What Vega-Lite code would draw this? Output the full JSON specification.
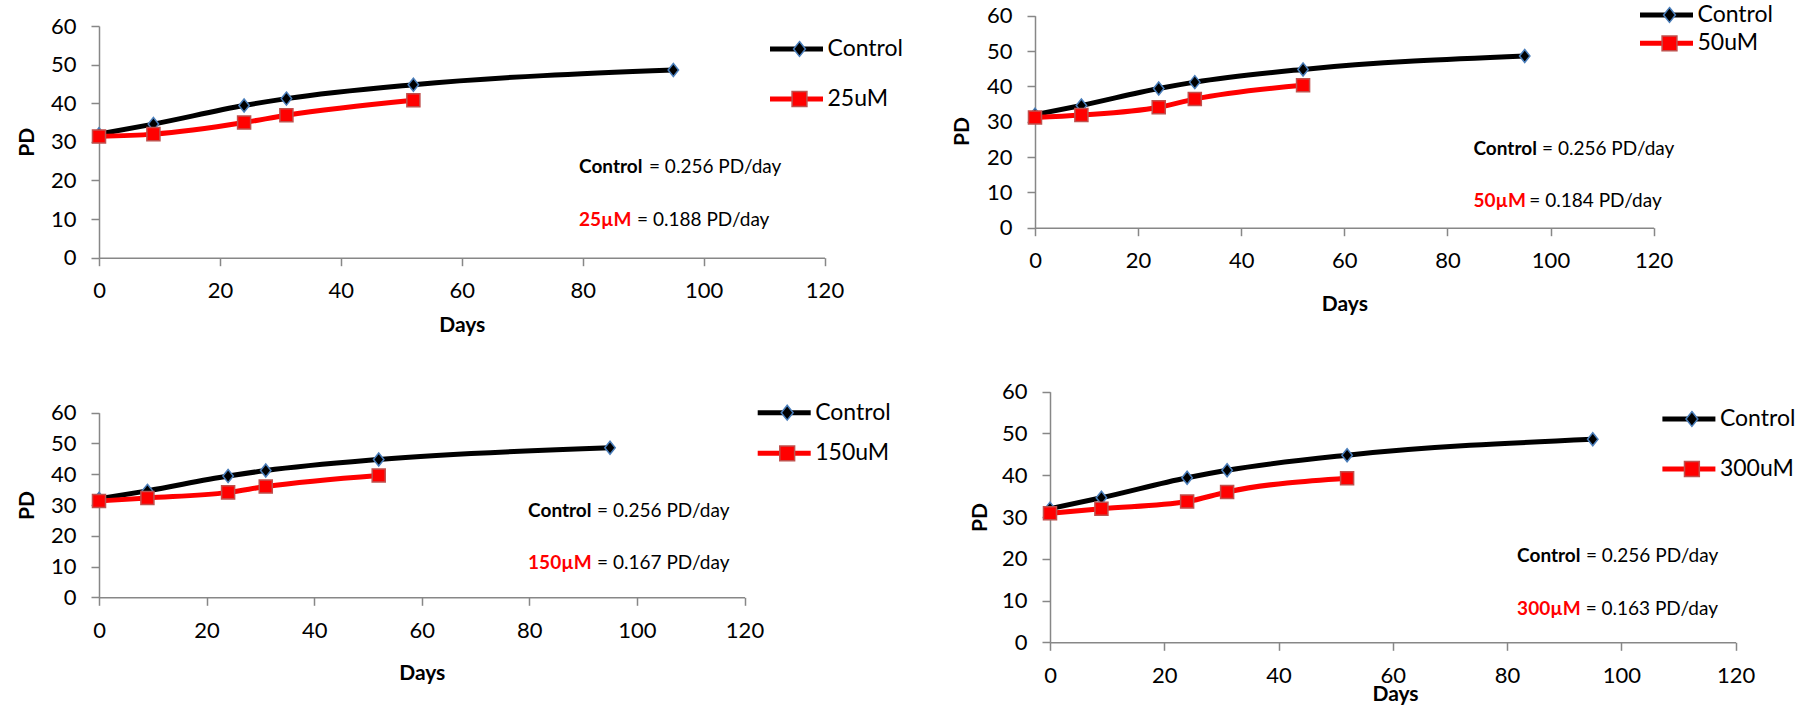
{
  "$schema": "https://vega.github.io/schema/vega-lite/v6.json",
  "width": 1811,
  "height": 708,
  "autosize": "none",
  "padding": 0,
  "background": "#ffffff",
  "config": {
    "view": {"stroke": null},
    "font": "Lato",
    "axis": {
      "grid": false,
      "domainColor": "#878787",
      "domainWidth": 1.5,
      "tickColor": "#878787",
      "tickWidth": 1.5,
      "tickSize": 8,
      "labelFont": "Lato",
      "labelFontSize": 22,
      "labelColor": "#000000",
      "labelPadding": 15,
      "labelFlush": false,
      "labelOverlap": false,
      "labelBound": false,
      "titleFont": "Lato",
      "titleFontSize": 21,
      "titleFontWeight": "bold",
      "titleColor": "#000000"
    },
    "legend": {
      "padding": 0,
      "labelFont": "Lato",
      "labelFontSize": 23,
      "labelColor": "#000000",
      "labelOffset": 2,
      "clipHeight": 24
    },
    "text": {"font": "Lato", "fontSize": 19, "align": "left", "baseline": "alphabetic"}
  },
  "datasets": {
    "pd": [
      {"series": "Control", "day": 0, "pd": 32.0},
      {"series": "Control", "day": 9, "pd": 34.6},
      {"series": "Control", "day": 24, "pd": 39.4},
      {"series": "Control", "day": 31, "pd": 41.2},
      {"series": "Control", "day": 52, "pd": 44.8},
      {"series": "Control", "day": 95, "pd": 48.6},
      {"series": "25uM", "day": 0, "pd": 31.4},
      {"series": "25uM", "day": 9, "pd": 32.0},
      {"series": "25uM", "day": 24, "pd": 35.0},
      {"series": "25uM", "day": 31, "pd": 36.9},
      {"series": "25uM", "day": 52, "pd": 40.8},
      {"series": "50uM", "day": 0, "pd": 31.2},
      {"series": "50uM", "day": 9, "pd": 31.9},
      {"series": "50uM", "day": 24, "pd": 34.1},
      {"series": "50uM", "day": 31, "pd": 36.4},
      {"series": "50uM", "day": 52, "pd": 40.3},
      {"series": "150uM", "day": 0, "pd": 31.3},
      {"series": "150uM", "day": 9, "pd": 32.3},
      {"series": "150uM", "day": 24, "pd": 34.1},
      {"series": "150uM", "day": 31, "pd": 36.0},
      {"series": "150uM", "day": 52, "pd": 39.6},
      {"series": "300uM", "day": 0, "pd": 30.9},
      {"series": "300uM", "day": 9, "pd": 32.0},
      {"series": "300uM", "day": 24, "pd": 33.7},
      {"series": "300uM", "day": 31, "pd": 36.0},
      {"series": "300uM", "day": 52, "pd": 39.3}
    ]
  },
  "data": {"name": "pd"},
  "resolve": {
    "scale": {"x": "independent", "y": "independent", "color": "independent", "fill": "independent", "stroke": "independent", "shape": "independent"}
  },
  "layer": [
    {
      "layer": [
        {
          "transform": [{"filter": {"field": "series", "oneOf": ["Control", "25uM"]}}],
          "mark": {"type": "line", "interpolate": "monotone", "strokeWidth": 5},
          "encoding": {
            "x": {"field": "day", "type": "quantitative", "scale": {"domain": [0, 120], "range": [99, 824.5], "nice": false, "zero": false},
              "axis": {"orient": "bottom", "offset": -450.3, "values": [0, 20, 40, 60, 80, 100, 120], "title": "Days", "titleBaseline": "alphabetic", "titleY": 73.3}},
            "y": {"field": "pd", "type": "quantitative", "scale": {"domain": [0, 60], "range": [257.7, 26], "nice": false, "zero": false},
              "axis": {"orient": "left", "offset": -99, "values": [0, 10, 20, 30, 40, 50, 60], "title": "PD", "titleAngle": -90, "titleBaseline": "alphabetic", "titleX": -65.7}},
            "color": {"field": "series", "type": "nominal", "scale": {"domain": ["Control", "25uM"], "range": ["#000000", "#ff0000"]},
              "legend": {"orient": "none", "legendX": 767.5, "legendY": 37, "title": null, "symbolType": "stroke", "symbolSize": 2809, "symbolStrokeWidth": 5, "rowPadding": 26}}
          }
        },
        {
          "transform": [{"filter": {"field": "series", "oneOf": ["Control", "25uM"]}}],
          "mark": {"type": "point", "filled": true, "size": 170, "strokeWidth": 1.5, "opacity": 1},
          "encoding": {
            "x": {"field": "day", "type": "quantitative"},
            "y": {"field": "pd", "type": "quantitative"},
            "fill": {"field": "series", "type": "nominal", "sort": null, "scale": {"range": ["#000000", "#ff0000"]},
              "legend": {"orient": "none", "legendX": 788, "legendY": 37, "title": null, "symbolSize": 220, "symbolStrokeWidth": 1.5, "labelExpr": "''", "rowPadding": 26}},
            "stroke": {"field": "series", "type": "nominal", "sort": null, "scale": {"range": ["#4a7ebb", "#c0504d"]}},
            "shape": {"field": "series", "type": "nominal", "sort": null, "scale": {"range": ["M0,-1L0.8,0L0,1L-0.8,0Z", "M-1,-1H1V1H-1Z"]}}
          }
        },
        {
          "data": {"values": [{"line": 1}]},
          "mark": {"type": "text", "fontWeight": "bold", "color": "#000000"},
          "encoding": {"x": {"datum": 79.4, "type": "quantitative"}, "y": {"datum": 21.86, "type": "quantitative"}, "text": {"value": "Control"}}
        },
        {
          "data": {"values": [{"line": 1}]},
          "mark": {"type": "text", "color": "#000000"},
          "encoding": {"x": {"datum": 90.97, "type": "quantitative"}, "y": {"datum": 21.86, "type": "quantitative"}, "text": {"value": "= 0.256 PD/day"}}
        },
        {
          "data": {"values": [{"line": 2}]},
          "mark": {"type": "text", "fontWeight": "bold", "color": "#ff0000"},
          "encoding": {"x": {"datum": 79.4, "type": "quantitative"}, "y": {"datum": 8.29, "type": "quantitative"}, "text": {"value": "25µM"}}
        },
        {
          "data": {"values": [{"line": 2}]},
          "mark": {"type": "text", "color": "#000000"},
          "encoding": {"x": {"datum": 89.0, "type": "quantitative"}, "y": {"datum": 8.29, "type": "quantitative"}, "text": {"value": "= 0.188 PD/day"}}
        }
      ]
    },
    {
      "layer": [
        {
          "transform": [{"filter": {"field": "series", "oneOf": ["Control", "50uM"]}}],
          "mark": {"type": "line", "interpolate": "monotone", "strokeWidth": 5},
          "encoding": {
            "x": {"field": "day", "type": "quantitative", "scale": {"domain": [0, 120], "range": [1035, 1653.6], "nice": false, "zero": false},
              "axis": {"orient": "bottom", "offset": -480.3, "values": [0, 20, 40, 60, 80, 100, 120], "title": "Days", "titleBaseline": "alphabetic", "titleY": 83}},
            "y": {"field": "pd", "type": "quantitative", "scale": {"domain": [0, 60], "range": [227.7, 15.7], "nice": false, "zero": false},
              "axis": {"orient": "left", "offset": -1035, "values": [0, 10, 20, 30, 40, 50, 60], "title": "PD", "titleAngle": -90, "titleBaseline": "alphabetic", "titleX": -66.7, "titleY": 131}},
            "color": {"field": "series", "type": "nominal", "scale": {"domain": ["Control", "50uM"], "range": ["#000000", "#ff0000"]},
              "legend": {"orient": "none", "legendX": 1637.5, "legendY": 3, "title": null, "symbolType": "stroke", "symbolSize": 2809, "symbolStrokeWidth": 5, "rowPadding": 4.3}}
          }
        },
        {
          "transform": [{"filter": {"field": "series", "oneOf": ["Control", "50uM"]}}],
          "mark": {"type": "point", "filled": true, "size": 170, "strokeWidth": 1.5, "opacity": 1},
          "encoding": {
            "x": {"field": "day", "type": "quantitative"},
            "y": {"field": "pd", "type": "quantitative"},
            "fill": {"field": "series", "type": "nominal", "sort": null, "scale": {"range": ["#000000", "#ff0000"]},
              "legend": {"orient": "none", "legendX": 1658, "legendY": 3, "title": null, "symbolSize": 220, "symbolStrokeWidth": 1.5, "labelExpr": "''", "rowPadding": 4.3}},
            "stroke": {"field": "series", "type": "nominal", "sort": null, "scale": {"range": ["#4a7ebb", "#c0504d"]}},
            "shape": {"field": "series", "type": "nominal", "sort": null, "scale": {"range": ["M0,-1L0.8,0L0,1L-0.8,0Z", "M-1,-1H1V1H-1Z"]}}
          }
        },
        {
          "data": {"values": [{"line": 1}]},
          "mark": {"type": "text", "fontWeight": "bold", "color": "#000000"},
          "encoding": {"x": {"datum": 85.06, "type": "quantitative"}, "y": {"datum": 20.58, "type": "quantitative"}, "text": {"value": "Control"}}
        },
        {
          "data": {"values": [{"line": 1}]},
          "mark": {"type": "text", "color": "#000000"},
          "encoding": {"x": {"datum": 98.35, "type": "quantitative"}, "y": {"datum": 20.58, "type": "quantitative"}, "text": {"value": "= 0.256 PD/day"}}
        },
        {
          "data": {"values": [{"line": 2}]},
          "mark": {"type": "text", "fontWeight": "bold", "color": "#ff0000"},
          "encoding": {"x": {"datum": 85.06, "type": "quantitative"}, "y": {"datum": 5.94, "type": "quantitative"}, "text": {"value": "50µM"}}
        },
        {
          "data": {"values": [{"line": 2}]},
          "mark": {"type": "text", "color": "#000000"},
          "encoding": {"x": {"datum": 95.9, "type": "quantitative"}, "y": {"datum": 5.94, "type": "quantitative"}, "text": {"value": "= 0.184 PD/day"}}
        }
      ]
    },
    {
      "layer": [
        {
          "transform": [{"filter": {"field": "series", "oneOf": ["Control", "150uM"]}}],
          "mark": {"type": "line", "interpolate": "monotone", "strokeWidth": 5},
          "encoding": {
            "x": {"field": "day", "type": "quantitative", "scale": {"domain": [0, 120], "range": [99, 744.5], "nice": false, "zero": false},
              "axis": {"orient": "bottom", "offset": -110.7, "values": [0, 20, 40, 60, 80, 100, 120], "title": "Days", "titleBaseline": "alphabetic", "titleY": 82}},
            "y": {"field": "pd", "type": "quantitative", "scale": {"domain": [0, 60], "range": [597.3, 412.7], "nice": false, "zero": false},
              "axis": {"orient": "left", "offset": -99, "values": [0, 10, 20, 30, 40, 50, 60], "title": "PD", "titleAngle": -90, "titleBaseline": "alphabetic", "titleX": -65.7}},
            "color": {"field": "series", "type": "nominal", "scale": {"domain": ["Control", "150uM"], "range": ["#000000", "#ff0000"]},
              "legend": {"orient": "none", "legendX": 755.2, "legendY": 400.7, "title": null, "symbolType": "stroke", "symbolSize": 2809, "symbolStrokeWidth": 5, "rowPadding": 16.6}}
          }
        },
        {
          "transform": [{"filter": {"field": "series", "oneOf": ["Control", "150uM"]}}],
          "mark": {"type": "point", "filled": true, "size": 170, "strokeWidth": 1.5, "opacity": 1},
          "encoding": {
            "x": {"field": "day", "type": "quantitative"},
            "y": {"field": "pd", "type": "quantitative"},
            "fill": {"field": "series", "type": "nominal", "sort": null, "scale": {"range": ["#000000", "#ff0000"]},
              "legend": {"orient": "none", "legendX": 775.7, "legendY": 400.7, "title": null, "symbolSize": 220, "symbolStrokeWidth": 1.5, "labelExpr": "''", "rowPadding": 16.6}},
            "stroke": {"field": "series", "type": "nominal", "sort": null, "scale": {"range": ["#4a7ebb", "#c0504d"]}},
            "shape": {"field": "series", "type": "nominal", "sort": null, "scale": {"range": ["M0,-1L0.8,0L0,1L-0.8,0Z", "M-1,-1H1V1H-1Z"]}}
          }
        },
        {
          "data": {"values": [{"line": 1}]},
          "mark": {"type": "text", "fontWeight": "bold", "color": "#000000"},
          "encoding": {"x": {"datum": 79.77, "type": "quantitative"}, "y": {"datum": 26.2, "type": "quantitative"}, "text": {"value": "Control"}}
        },
        {
          "data": {"values": [{"line": 1}]},
          "mark": {"type": "text", "color": "#000000"},
          "encoding": {"x": {"datum": 92.6, "type": "quantitative"}, "y": {"datum": 26.2, "type": "quantitative"}, "text": {"value": "= 0.256 PD/day"}}
        },
        {
          "data": {"values": [{"line": 2}]},
          "mark": {"type": "text", "fontWeight": "bold", "color": "#ff0000"},
          "encoding": {"x": {"datum": 79.77, "type": "quantitative"}, "y": {"datum": 9.1, "type": "quantitative"}, "text": {"value": "150µM"}}
        },
        {
          "data": {"values": [{"line": 2}]},
          "mark": {"type": "text", "color": "#000000"},
          "encoding": {"x": {"datum": 92.6, "type": "quantitative"}, "y": {"datum": 9.1, "type": "quantitative"}, "text": {"value": "= 0.167 PD/day"}}
        }
      ]
    },
    {
      "layer": [
        {
          "transform": [{"filter": {"field": "series", "oneOf": ["Control", "300uM"]}}],
          "mark": {"type": "line", "interpolate": "monotone", "strokeWidth": 5},
          "encoding": {
            "x": {"field": "day", "type": "quantitative", "scale": {"domain": [0, 120], "range": [1050, 1735.6], "nice": false, "zero": false},
              "axis": {"orient": "bottom", "offset": -65.7, "values": [0, 20, 40, 60, 80, 100, 120], "title": "Days", "titleBaseline": "alphabetic", "titleY": 57.7, "titleX": 1395}},
            "y": {"field": "pd", "type": "quantitative", "scale": {"domain": [0, 60], "range": [642.3, 391.7], "nice": false, "zero": false},
              "axis": {"orient": "left", "offset": -1050, "values": [0, 10, 20, 30, 40, 50, 60], "title": "PD", "titleAngle": -90, "titleBaseline": "alphabetic", "titleX": -64}},
            "color": {"field": "series", "type": "nominal", "scale": {"domain": ["Control", "300uM"], "range": ["#000000", "#ff0000"]},
              "legend": {"orient": "none", "legendX": 1659.9, "legendY": 407, "title": null, "symbolType": "stroke", "symbolSize": 2809, "symbolStrokeWidth": 5, "rowPadding": 26}}
          }
        },
        {
          "transform": [{"filter": {"field": "series", "oneOf": ["Control", "300uM"]}}],
          "mark": {"type": "point", "filled": true, "size": 170, "strokeWidth": 1.5, "opacity": 1},
          "encoding": {
            "x": {"field": "day", "type": "quantitative"},
            "y": {"field": "pd", "type": "quantitative"},
            "fill": {"field": "series", "type": "nominal", "sort": null, "scale": {"range": ["#000000", "#ff0000"]},
              "legend": {"orient": "none", "legendX": 1680.4, "legendY": 407, "title": null, "symbolSize": 220, "symbolStrokeWidth": 1.5, "labelExpr": "''", "rowPadding": 26}},
            "stroke": {"field": "series", "type": "nominal", "sort": null, "scale": {"range": ["#4a7ebb", "#c0504d"]}},
            "shape": {"field": "series", "type": "nominal", "sort": null, "scale": {"range": ["M0,-1L0.8,0L0,1L-0.8,0Z", "M-1,-1H1V1H-1Z"]}}
          }
        },
        {
          "data": {"values": [{"line": 1}]},
          "mark": {"type": "text", "fontWeight": "bold", "color": "#000000"},
          "encoding": {"x": {"datum": 81.76, "type": "quantitative"}, "y": {"datum": 19.3, "type": "quantitative"}, "text": {"value": "Control"}}
        },
        {
          "data": {"values": [{"line": 1}]},
          "mark": {"type": "text", "color": "#000000"},
          "encoding": {"x": {"datum": 93.8, "type": "quantitative"}, "y": {"datum": 19.3, "type": "quantitative"}, "text": {"value": "= 0.256 PD/day"}}
        },
        {
          "data": {"values": [{"line": 2}]},
          "mark": {"type": "text", "fontWeight": "bold", "color": "#ff0000"},
          "encoding": {"x": {"datum": 81.76, "type": "quantitative"}, "y": {"datum": 6.54, "type": "quantitative"}, "text": {"value": "300µM"}}
        },
        {
          "data": {"values": [{"line": 2}]},
          "mark": {"type": "text", "color": "#000000"},
          "encoding": {"x": {"datum": 93.75, "type": "quantitative"}, "y": {"datum": 6.54, "type": "quantitative"}, "text": {"value": "= 0.163 PD/day"}}
        }
      ]
    }
  ]
}
